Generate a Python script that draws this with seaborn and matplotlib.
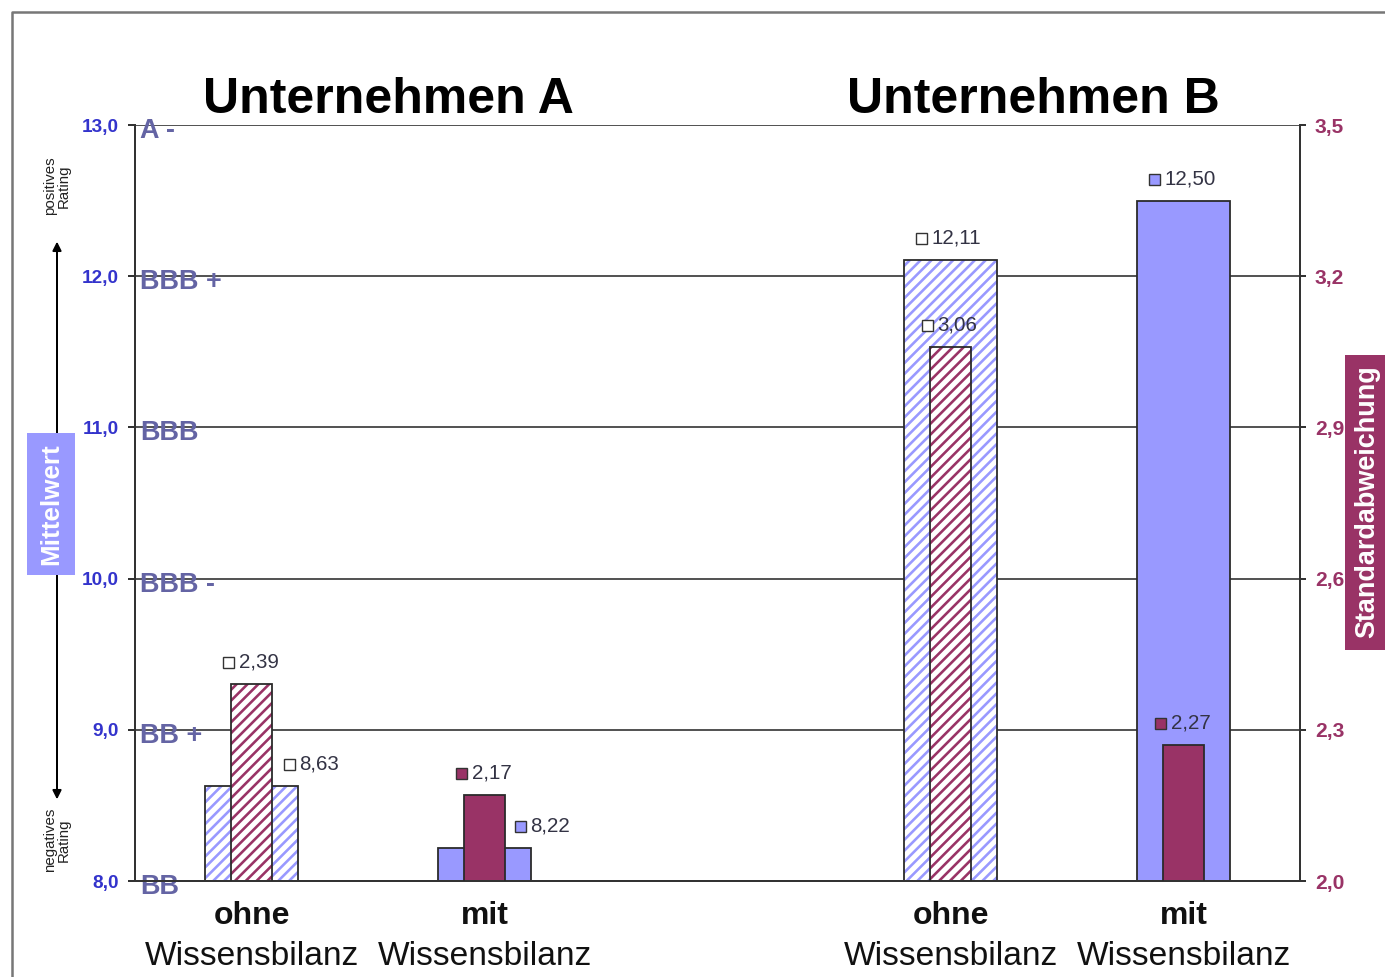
import numpy as np
import pandas as pd
import matplotlib
matplotlib.use("Agg")
import matplotlib.pyplot as plt
import seaborn as sns
from matplotlib import transforms
from matplotlib.transforms import offset_copy
from matplotlib.patches import Rectangle, FancyArrowPatch
from matplotlib.lines import Line2D

# ---------------- data ----------------
company_titles = ["Unternehmen A", "Unternehmen B"]
conditions = ["ohne", "mit", "ohne", "mit"]
second_line = ["Wissensbilanz", "Wissensbilanz", "Wissensbilanz", "Wissensbilanz"]
slot = [0, 1, 3, 4]
mean_values = [8.63, 8.22, 12.11, 12.50]
std_values = [2.39, 2.17, 3.06, 2.27]
left_ticks = [8.0, 9.0, 10.0, 11.0, 12.0, 13.0]
rating_labels = ["BB", "BB +", "BBB -", "BBB", "BBB +", "A -"]
right_ticks = [2.0, 2.3, 2.6, 2.9, 3.2, 3.5]

# ---------------- style ----------------
sns.set_theme(style="white")
DPI = 130
W, H = 1385, 977


def P(px):
    return px * 72.0 / DPI


plt.rcParams["font.family"] = ["Liberation Sans", "DejaVu Sans"]
plt.rcParams["hatch.linewidth"] = P(2.6)

BLUE = "#9999FF"
MAROON = "#993366"
TICKBLUE = "#3333CC"
RATING = "#6464A4"
EDGE = "#2a2a2a"
HATCH = "////"

fig = plt.figure(figsize=((W + 0.01) / DPI, (H + 0.01) / DPI), dpi=DPI)
fig.patch.set_facecolor("white")
ax = fig.add_axes([135 / W, 1 - 881 / H, (1300 - 135) / W, (881 - 125) / H])

df = pd.DataFrame({"slot": slot, "mean": mean_values, "std": std_values, "cond": conditions})
hatched = [c == "ohne" for c in conditions]

# mean bars (left axis)
n0 = len(ax.patches)
sns.barplot(data=df, x="slot", y="mean", native_scale=True, orient="x", width=0.395,
            color=BLUE, saturation=1, errorbar=None, linewidth=0, ax=ax, zorder=2)
for p, h in zip(ax.patches[n0:], hatched):
    p.set_linewidth(0)
    if h:
        p.set_facecolor("white")
        p.set_edgecolor(BLUE)
        p.set_hatch(HATCH)
    else:
        p.set_facecolor(BLUE)
        p.set_edgecolor(BLUE)
sns.barplot(data=df, x="slot", y="mean", native_scale=True, orient="x", width=0.395,
            color=EDGE, saturation=1, fill=False, errorbar=None, linewidth=P(1.8), ax=ax, zorder=3)

# std bars (right axis)
ax2 = ax.twinx()
n1 = len(ax2.patches)
sns.barplot(data=df, x="slot", y="std", native_scale=True, orient="x", width=0.175,
            color=MAROON, saturation=1, errorbar=None, linewidth=0, ax=ax2, zorder=2)
for p, h in zip(ax2.patches[n1:], hatched):
    p.set_linewidth(0)
    if h:
        p.set_facecolor("white")
        p.set_edgecolor(MAROON)
        p.set_hatch(HATCH)
    else:
        p.set_facecolor(MAROON)
        p.set_edgecolor(MAROON)
sns.barplot(data=df, x="slot", y="std", native_scale=True, orient="x", width=0.175,
            color=EDGE, saturation=1, fill=False, errorbar=None, linewidth=P(1.8), ax=ax2, zorder=3)

# ---------------- axes ----------------
for a in (ax, ax2):
    a.set_xlim(-0.5, 4.5)
    a.set_xlabel("")
    a.set_ylabel("")
    for s in a.spines.values():
        s.set_color("#333333")
        s.set_linewidth(P(2))
    a.spines["top"].set_visible(False)
    a.set_facecolor("none")

ax.set_ylim(8.0, 13.0)
ax2.set_ylim(2.0, 3.5)
ax.patch.set_facecolor("white")
ax.set_axisbelow(True)
ax.yaxis.grid(True, color="#555555", linewidth=P(2))
ax.xaxis.grid(False)

ax.set_yticks(left_ticks)
ax.set_yticklabels([f"{v:.1f}".replace(".", ",") for v in left_ticks],
                   color=TICKBLUE, fontweight="bold", fontsize=P(19))
ax.tick_params(axis="y", which="both", direction="out", length=P(7), width=P(2),
               color="#333333", pad=P(9), left=True, right=False)

ax2.set_yticks(right_ticks)
ax2.set_yticklabels([f"{v:.1f}".replace(".", ",") for v in right_ticks],
                    color=MAROON, fontweight="bold", fontsize=P(21))
ax2.tick_params(axis="y", which="both", direction="out", length=P(6), width=P(2),
                color="#333333", pad=P(9), right=True, left=False)
ax2.grid(False)

ax.set_xticks(slot)
ax.set_xticklabels(conditions, fontweight="bold", fontsize=P(32), color="#111111")
ax.tick_params(axis="x", length=0, pad=P(20))
ax2.tick_params(axis="x", length=0, labelbottom=False)

# rating labels at the left gridlines
tr_rating = offset_copy(transforms.blended_transform_factory(ax.transAxes, ax.transData),
                        fig=fig, x=5, y=-6, units="dots")
for v, lab in zip(left_ticks, rating_labels):
    ax.text(0, v, lab, transform=tr_rating, ha="left", va="center", fontsize=P(27),
            fontweight="bold", color=RATING, zorder=4)

# second line of category labels
tr_cat = transforms.blended_transform_factory(ax.transData, fig.transFigure)
for x, lab in zip(slot, second_line):
    ax.text(x, 1 - 956 / H, lab, transform=tr_cat, ha="center", va="center",
            fontsize=P(33.5), color="#111111", clip_on=False)

# titles
for x, t in zip([0.586, 3.354], company_titles):
    ax.text(x, 1 - 113 / H, t, transform=tr_cat, ha="center", va="baseline",
            fontsize=P(50), fontweight="bold", color="#000000", clip_on=False)


# value labels with legend-style squares
def value_label(axis, x, y, face, dx, dy=22):
    tm = offset_copy(axis.transData, fig=fig, x=dx, y=dy, units="dots")
    axis.plot([x], [y], marker="s", ms=P(11), mfc=face, mec="#333333", mew=P(1.4),
              transform=tm, clip_on=False, zorder=6, linestyle="none")
    tt = offset_copy(axis.transData, fig=fig, x=dx + 11, y=dy, units="dots")
    txt = f"{y:.2f}".replace(".", ",")
    axis.text(x, y, txt, transform=tt, ha="left", va="center", fontsize=P(20.5),
              color="#333344", zorder=6, clip_on=False)


mean_dx = [37, 35, -30, -30]
for x, v, h, dx in zip(slot, mean_values, hatched, mean_dx):
    value_label(ax, x, v, "white" if h else BLUE, dx)
for x, v, h in zip(slot, std_values, hatched):
    value_label(ax2, x, v, "white" if h else MAROON, -24)

ax.set_xlim(-0.5, 4.5)
ax2.set_xlim(-0.5, 4.5)
ax.set_ylim(8.0, 13.0)
ax2.set_ylim(2.0, 3.5)

# ---------------- decorations in figure space ----------------
fig.add_artist(Line2D([12 / W, 12 / W, 1.0], [0.0, 1 - 12 / H, 1 - 12 / H],
                      transform=fig.transFigure, color="#777777", lw=P(2.5)))

arrow = FancyArrowPatch((57 / W, 1 - 803 / H), (57 / W, 1 - 238 / H),
                        transform=fig.transFigure, arrowstyle="<|-|>",
                        mutation_scale=P(18), lw=P(2), color="black", zorder=1)
fig.add_artist(arrow)

fig.add_artist(Rectangle((27 / W, 1 - 575 / H), 48 / W, 142 / H, transform=fig.transFigure,
                         facecolor=BLUE, edgecolor="none", zorder=3))
fig.text(51 / W, 1 - 504 / H, "Mittelwert", rotation=90, ha="center", va="center",
         fontsize=P(26), fontweight="bold", color="white", zorder=4)

fig.add_artist(Rectangle((1345 / W, 1 - 650 / H), 45 / W, 295 / H, transform=fig.transFigure,
                         facecolor=MAROON, edgecolor="none", zorder=3))
fig.text(1367 / W, 1 - 502 / H, "Standardabweichung", rotation=90, ha="center", va="center",
         fontsize=P(27), fontweight="bold", color="white", zorder=4)

fig.text(57 / W, 1 - 186 / H, "positives\nRating", rotation=90, ha="center", va="center",
         fontsize=P(15), color="#222222", linespacing=1.0)
fig.text(57 / W, 1 - 840 / H, "negatives\nRating", rotation=90, ha="center", va="center",
         fontsize=P(15), color="#222222", linespacing=1.0)

fig.savefig("out.png", dpi=DPI)
